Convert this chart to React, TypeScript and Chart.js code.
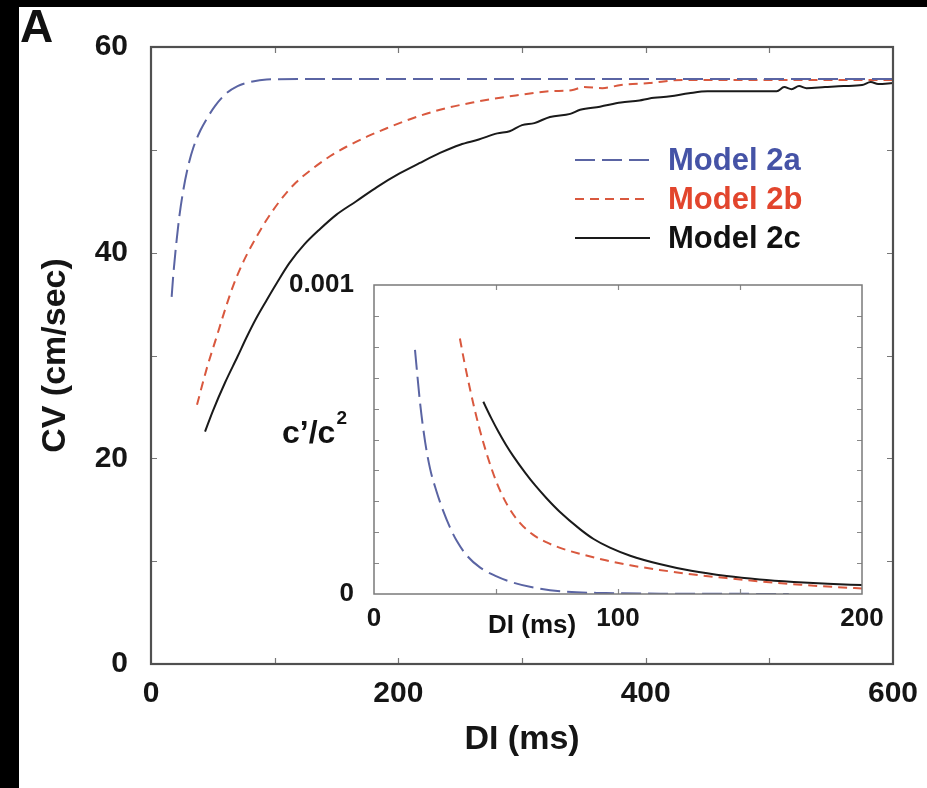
import React, { useEffect, useRef } from 'react';
import { Chart, registerables } from 'chart.js';
Chart.register(...registerables);

const FONT = "'Liberation Sans', Arial, Helvetica, sans-serif";

// ---- Main panel data: CV (cm/sec) vs DI (ms) ----
const blueDI = [16.7, 18, 20.8, 23, 26, 30, 34.2, 40, 45, 52, 61, 70, 80, 93.5, 150, 300, 450, 600];
const blueCV = [35.7, 37.8, 41.3, 43.6, 46.0, 48.4, 50.2, 51.9, 53.0, 54.3, 55.5, 56.2, 56.6, 56.85, 56.9, 56.9, 56.9, 56.9];

const redDI = [37.2, 45, 53, 60, 66.5, 75, 82.8, 93, 104, 117, 131, 145, 158, 175, 190.6, 210, 233.7, 260, 290, 322.6, 340, 350, 365, 380, 403, 430, 500, 600];
const redCV = [25.2, 28.7, 31.8, 34.5, 36.8, 39.2, 41.0, 43.1, 45.0, 46.8, 48.2, 49.4, 50.3, 51.3, 52.1, 53.0, 53.9, 54.6, 55.2, 55.7, 55.8, 56.1, 56.0, 56.3, 56.5, 56.8, 56.8, 56.8];

const blackDI = [43.7, 50, 60, 70, 77.4, 85, 93.6, 102, 112, 124, 136.7, 150, 166, 183, 201, 217, 233.7, 250, 265, 280, 290, 300, 310, 322.6, 339, 347, 363, 380, 395, 403, 420, 435, 450, 480, 506, 512, 518, 524, 530, 545, 560, 575, 582, 588, 600];
const blackCV = [22.6, 24.6, 27.4, 29.9, 31.8, 33.6, 35.4, 37.1, 39.0, 40.8, 42.3, 43.7, 45.0, 46.4, 47.7, 48.7, 49.7, 50.5, 51.0, 51.6, 51.8, 52.4, 52.6, 53.2, 53.5, 53.9, 54.2, 54.6, 54.8, 55.0, 55.2, 55.5, 55.7, 55.7, 55.7, 56.1, 55.9, 56.2, 56.0, 56.1, 56.2, 56.3, 56.6, 56.4, 56.5];

const mainXLabels = [0, 200, 400, 600];
const mainYLabels = [0, 20, 40, 60];
const mainXMinor = [100, 200, 300, 400, 500];
const mainYMinor = [10, 20, 30, 40, 50];
const legendLabels = ['Model 2a', 'Model 2b', 'Model 2c'];

// ---- Inset data: c'/c^2 vs DI (ms) ----
const insetBlueDI = [16.8, 18.9, 21, 23, 25.5, 28.4, 31, 33.9, 38, 43.4, 50, 57, 66, 77.5, 95, 120, 150, 170];
const insetBlueV = [0.00079, 0.000617, 0.00049, 0.000405, 0.000335, 0.000268, 0.000218, 0.000172, 0.000125, 0.000086, 0.000058, 0.000037, 0.00002, 0.000008, 0.000003, 0.000001, 0.0000005, 0.0000002];

const insetRedDI = [35.2, 37, 39.3, 41.3, 43.4, 46.5, 50.3, 55, 59.8, 65, 70.8, 76, 84.4, 95, 105, 117, 130, 145, 158, 175, 190, 200];
const insetRedV = [0.000827, 0.000752, 0.000665, 0.000596, 0.00053, 0.000446, 0.00036, 0.000283, 0.00023, 0.000193, 0.000167, 0.00015, 0.00013, 0.000109, 0.000093, 0.000078, 0.000064, 0.000051, 0.000041, 0.00003, 0.000022, 0.000018];

const insetBlackDI = [44.8, 48, 51, 54, 57, 62, 66, 70.8, 76, 84.4, 90, 96.7, 105, 117, 130, 144.5, 158, 172, 186, 200];
const insetBlackV = [0.000622, 0.00057, 0.000525, 0.000484, 0.000447, 0.000392, 0.000352, 0.000309, 0.000267, 0.00021, 0.000178, 0.00015, 0.000124, 0.000097, 0.000075, 0.000058, 0.000047, 0.000039, 0.000033, 0.000029];

const insetXLabels = [0, 100, 200];
const insetYValues = [0, 0.001];
const insetYLabels = ['0', '0.001'];
const insetXMinor = [50, 100, 150];
const insetYMinor = [0.0001, 0.0002, 0.0003, 0.0004, 0.0005, 0.0006, 0.0007, 0.0008, 0.0009];

const BLUE = '#5a64a3';
const RED = '#d9583e';
const BLACK = '#1a1a1a';
const BLUE_TXT = '#4553a6';
const RED_TXT = '#e2452d';
const DASH_BLUE = [20, 7];
const DASH_RED = [9, 6];

const pts = (xs: number[], ys: number[]) => xs.map((x, i) => ({ x, y: ys[i] }));

const lineDs = (label: string, data: any[], color: string, dash: number[]) => ({
  label,
  data,
  showLine: true,
  borderColor: color,
  backgroundColor: color,
  borderDash: dash,
  borderWidth: 2,
  pointRadius: 0,
  tension: 0.4,
  cubicInterpolationMode: 'monotone' as const,
  fill: false,
});

const framePlugin = {
  id: 'frameTicks',
  beforeDraw(chart: any, _a: any, opts: any) {
    if (!opts.fillWhite) return;
    const { left, top, right, bottom } = chart.chartArea;
    const ctx = chart.ctx;
    ctx.save();
    ctx.fillStyle = '#fff';
    ctx.fillRect(left, top, right - left, bottom - top);
    ctx.restore();
  },
  afterDatasetsDraw(chart: any, _a: any, opts: any) {
    const ctx = chart.ctx;
    const { left, top, right, bottom } = chart.chartArea;
    const xs = chart.scales.x;
    const ys = chart.scales.y;
    ctx.save();
    ctx.setLineDash([]);
    ctx.strokeStyle = opts.tickColor;
    ctx.lineWidth = 1.2;
    ctx.beginPath();
    for (const v of opts.xMinor) {
      const px = Math.round(xs.getPixelForValue(v)) + 0.5;
      ctx.moveTo(px, top);
      ctx.lineTo(px, top + opts.len);
      ctx.moveTo(px, bottom);
      ctx.lineTo(px, bottom - opts.len);
    }
    for (const v of opts.yMinor) {
      const py = Math.round(ys.getPixelForValue(v)) + 0.5;
      ctx.moveTo(left, py);
      ctx.lineTo(left + opts.len, py);
      ctx.moveTo(right, py);
      ctx.lineTo(right - opts.len, py);
    }
    ctx.stroke();
    ctx.strokeStyle = opts.color;
    ctx.lineWidth = opts.lineWidth;
    ctx.strokeRect(left, top, right - left, bottom - top);
    ctx.restore();
  },
};

const mainTextPlugin = {
  id: 'mainText',
  afterDraw(chart: any) {
    const ctx = chart.ctx;
    ctx.save();
    ctx.fillStyle = '#111';
    ctx.font = `bold 46px ${FONT}`;
    ctx.textBaseline = 'alphabetic';
    ctx.textAlign = 'left';
    ctx.fillText('A', 20, 42);
    // legend
    const rows = [
      { y: 160, color: BLUE, txt: BLUE_TXT, dash: DASH_BLUE },
      { y: 199, color: RED, txt: RED_TXT, dash: DASH_RED },
      { y: 238, color: BLACK, txt: '#111', dash: [] as number[] },
    ];
    ctx.font = `bold 31px ${FONT}`;
    ctx.textBaseline = 'middle';
    rows.forEach((r, i) => {
      ctx.strokeStyle = r.color;
      ctx.lineWidth = 2;
      ctx.setLineDash(r.dash);
      ctx.beginPath();
      ctx.moveTo(575, r.y);
      ctx.lineTo(650, r.y);
      ctx.stroke();
      ctx.fillStyle = r.txt;
      ctx.fillText(legendLabels[i], 668, r.y + 1);
    });
    ctx.restore();
  },
};

const insetTextPlugin = {
  id: 'insetText',
  afterDraw(chart: any) {
    const ctx = chart.ctx;
    ctx.save();
    ctx.fillStyle = '#111';
    ctx.textAlign = 'left';
    ctx.textBaseline = 'alphabetic';
    ctx.font = `bold 32px ${FONT}`;
    const base = 'c\u2019/c';
    ctx.fillText(base, 282, 443);
    const w = ctx.measureText(base).width;
    ctx.font = `bold 19px ${FONT}`;
    ctx.fillText('2', 282 + w + 1, 424);
    ctx.font = `bold 26px ${FONT}`;
    ctx.textBaseline = 'middle';
    ctx.fillText('DI (ms)', 488, 626);
    ctx.restore();
  },
};

const tickFont = (size: number) => ({ family: FONT, size, weight: 'bold' as const });

export default function App() {
  const mainRef = useRef<HTMLCanvasElement | null>(null);
  const insetRef = useRef<HTMLCanvasElement | null>(null);

  useEffect(() => {
    const main = new Chart(mainRef.current as HTMLCanvasElement, {
      type: 'scatter',
      data: {
        datasets: [
          lineDs('Model 2a', pts(blueDI, blueCV), BLUE, DASH_BLUE),
          lineDs('Model 2b', pts(redDI, redCV), RED, DASH_RED),
          lineDs('Model 2c', pts(blackDI, blackCV), BLACK, []),
        ] as any,
      },
      options: {
        responsive: false,
        maintainAspectRatio: false,
        animation: false,
        events: [],
        layout: { padding: { left: 0, top: 47, right: 47, bottom: 0 } },
        plugins: {
          legend: { display: false },
          tooltip: { enabled: false },
          frameTicks: { fillWhite: false, xMinor: mainXMinor, yMinor: mainYMinor, len: 6, color: '#505050', tickColor: '#777', lineWidth: 2.2 },
        } as any,
        scales: {
          x: {
            type: 'linear',
            min: 0,
            max: 600,
            afterFit: (s: any) => { s.height = 124; },
            afterBuildTicks: (s: any) => { s.ticks = mainXLabels.map((v) => ({ value: v })); },
            ticks: { padding: 12, font: tickFont(30), color: '#151515', maxRotation: 0, autoSkip: false, callback: (v: any) => String(v) },
            grid: { display: false, drawTicks: false },
            border: { display: false },
            title: { display: true, text: 'DI (ms)', color: '#151515', font: { family: FONT, size: 34, weight: 'bold', lineHeight: 1 }, padding: { top: 0, bottom: 31 } },
          },
          y: {
            type: 'linear',
            min: 0,
            max: 60,
            afterFit: (s: any) => { s.width = 151; },
            afterBuildTicks: (s: any) => { s.ticks = mainYLabels.map((v) => ({ value: v })); },
            ticks: { padding: 23, font: tickFont(30), color: '#151515', autoSkip: false, callback: (v: any) => String(v) },
            grid: { display: false, drawTicks: false },
            border: { display: false },
            title: { display: true, text: 'CV (cm/sec)', color: '#151515', font: { family: FONT, size: 34, weight: 'bold', lineHeight: 1 }, padding: { top: 39, bottom: 0 } },
          },
        },
      } as any,
      plugins: [framePlugin, mainTextPlugin],
    });

    const inset = new Chart(insetRef.current as HTMLCanvasElement, {
      type: 'scatter',
      data: {
        datasets: [
          lineDs('Model 2a', pts(insetBlueDI, insetBlueV), BLUE, DASH_BLUE),
          lineDs('Model 2b', pts(insetRedDI, insetRedV), RED, DASH_RED),
          lineDs('Model 2c', pts(insetBlackDI, insetBlackV), BLACK, []),
        ] as any,
      },
      options: {
        responsive: false,
        maintainAspectRatio: false,
        animation: false,
        events: [],
        layout: { padding: { left: 0, top: 285, right: 65, bottom: 0 } },
        plugins: {
          legend: { display: false },
          tooltip: { enabled: false },
          frameTicks: { fillWhite: true, xMinor: insetXMinor, yMinor: insetYMinor, len: 5, color: '#7a7a7a', tickColor: '#888', lineWidth: 1.5 },
        } as any,
        scales: {
          x: {
            type: 'linear',
            min: 0,
            max: 200,
            afterFit: (s: any) => { s.height = 194; },
            afterBuildTicks: (s: any) => { s.ticks = insetXLabels.map((v) => ({ value: v })); },
            ticks: { padding: 9, font: tickFont(26), color: '#151515', maxRotation: 0, autoSkip: false, callback: (v: any) => String(v) },
            grid: { display: false, drawTicks: false },
            border: { display: false },
          },
          y: {
            type: 'linear',
            min: 0,
            max: 0.001,
            afterFit: (s: any) => { s.width = 374; },
            afterBuildTicks: (s: any) => { s.ticks = insetYValues.map((v) => ({ value: v })); },
            ticks: { padding: 20, font: tickFont(26), color: '#151515', autoSkip: false, callback: (v: any, i: number) => insetYLabels[i] },
            grid: { display: false, drawTicks: false },
            border: { display: false },
          },
        },
      } as any,
      plugins: [framePlugin, insetTextPlugin],
    });

    return () => {
      main.destroy();
      inset.destroy();
    };
  }, []);

  return (
    <div style={{ position: 'absolute', left: 0, top: 0, width: 927, height: 788, background: '#000', overflow: 'hidden' }}>
      <div style={{ position: 'absolute', left: 19, top: 7, width: 908, height: 781, background: '#fff' }} />
      <canvas ref={mainRef} width={940} height={788} style={{ position: 'absolute', left: 0, top: 0, width: 940, height: 788 }} />
      <canvas ref={insetRef} width={927} height={788} style={{ position: 'absolute', left: 0, top: 0, width: 927, height: 788 }} />
    </div>
  );
}
